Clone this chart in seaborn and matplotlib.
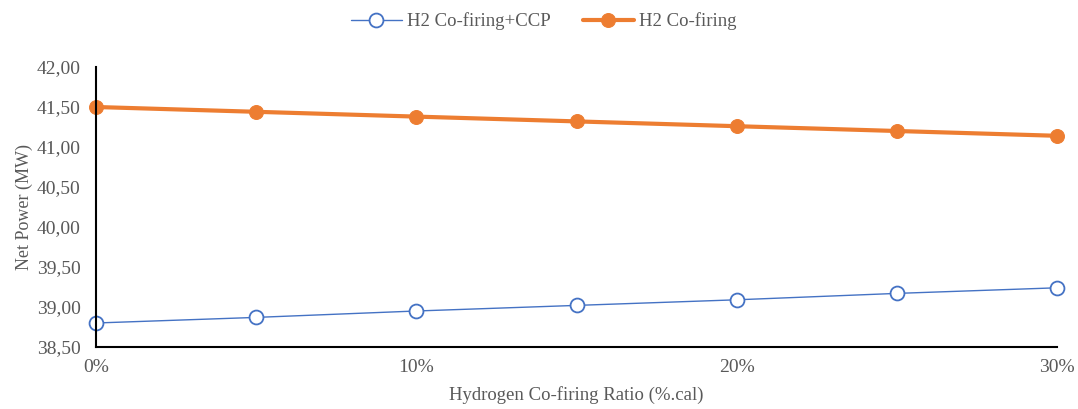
import matplotlib
matplotlib.use("Agg")
import matplotlib.pyplot as plt
import seaborn as sns
import pandas as pd

ratio = [0, 5, 10, 15, 20, 25, 30]
ccp = [38.80, 38.87, 38.95, 39.02, 39.09, 39.17, 39.24]
cofiring = [41.50, 41.44, 41.38, 41.32, 41.26, 41.20, 41.14]
x_ticks = [0, 10, 20, 30]
x_tick_labels = ["0%", "10%", "20%", "30%"]
y_ticks = [38.5, 39.0, 39.5, 40.0, 40.5, 41.0, 41.5, 42.0]

sns.set_theme(style="white")
plt.rcParams['font.family'] = ['Liberation Serif', 'DejaVu Serif']

df = pd.DataFrame({"ratio": ratio, "ccp": ccp, "cof": cofiring})

fig = plt.figure(figsize=(10.78, 4.09), dpi=100)
ax = fig.add_axes([96/1078, 1-347/409, (1057-96)/1078, (347-67)/409])

gray = "#595959"
sns.lineplot(data=df, x="ratio", y="ccp", ax=ax, color="#4472C4", linewidth=1.0,
             marker="o", markersize=10, markerfacecolor="white",
             markeredgecolor="#4472C4", markeredgewidth=1.3,
             label="H2 Co-firing+CCP", clip_on=False)
sns.lineplot(data=df, x="ratio", y="cof", ax=ax, color="#ED7D31", linewidth=3.0,
             marker="o", markersize=10, markerfacecolor="#ED7D31",
             markeredgecolor="#ED7D31", label="H2 Co-firing", clip_on=False)

ax.set_xlim(0, 30)
ax.set_ylim(38.5, 42.0)
ax.set_xticks(x_ticks)
ax.set_xticklabels(x_tick_labels)
ax.set_yticks(y_ticks)
ax.set_yticklabels([f"{v:.2f}".replace(".", ",") for v in y_ticks])

for s in ["top", "right"]:
    ax.spines[s].set_visible(False)
for s in ["left", "bottom"]:
    ax.spines[s].set_color("black")
    ax.spines[s].set_linewidth(1.5)

ax.tick_params(axis="both", direction="in", length=4, width=1.2, colors="black",
               labelcolor=gray, labelsize=14)
ax.tick_params(axis="x", pad=9)
ax.tick_params(axis="y", pad=11)

ax.set_xlabel("Hydrogen Co-firing Ratio (%.cal)", fontsize=13.5, color=gray, labelpad=7)
ax.set_ylabel("Net Power (MW)", fontsize=13, color=gray, labelpad=3)

leg = ax.legend(loc="upper center", bbox_to_anchor=(0.466, 1.255), ncol=2, frameon=False,
                fontsize=13.5, handlelength=2.7, handletextpad=0.3, columnspacing=1.7)
for t in leg.get_texts():
    t.set_color(gray)

fig.savefig("out.png", dpi=100)
